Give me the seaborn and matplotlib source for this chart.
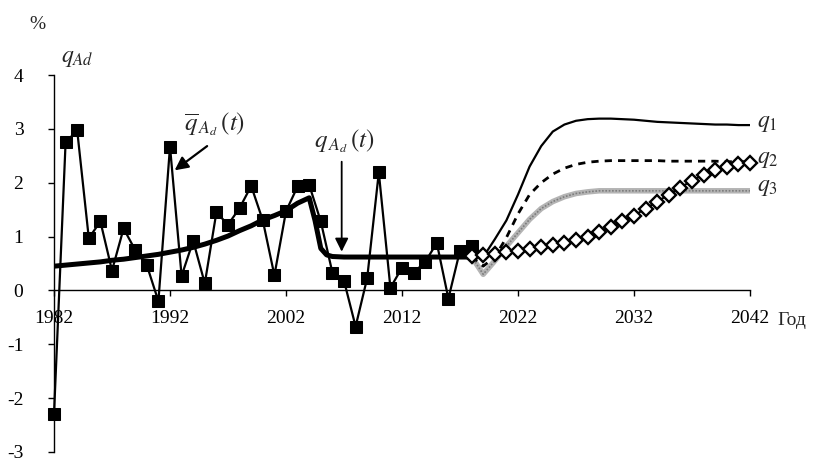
import matplotlib
matplotlib.use("Agg")
import matplotlib.pyplot as plt
import seaborn as sns

# фактические значения q_Ad, %
years_fact = list(range(1982, 2019))
q_fact = [-2.3, 2.75, 2.97, 0.97, 1.28, 0.37, 1.15, 0.75, 0.47, -0.2,
          2.67, 0.27, 0.92, 0.13, 1.45, 1.22, 1.53, 1.94, 1.3, 0.28,
          1.47, 1.93, 1.96, 1.28, 0.33, 0.18, -0.67, 0.23, 2.19, 0.05,
          0.42, 0.33, 0.53, 0.88, -0.15, 0.74, 0.83]

# сглаженный тренд
years_trend = list(range(1982, 2005)) + [2004.5, 2005, 2005.5] + list(range(2006, 2019))
q_trend = [0.45, 0.47, 0.49, 0.51, 0.53, 0.56, 0.58, 0.61, 0.64, 0.67,
           0.71, 0.75, 0.8, 0.86, 0.93, 1.01, 1.11, 1.2, 1.31, 1.39,
           1.48, 1.62, 1.72, 1.3, 0.78, 0.66,
           0.63, 0.62, 0.62, 0.62, 0.62, 0.62, 0.62, 0.62, 0.62, 0.62,
           0.62, 0.62, 0.62]

# прогнозы
years_fc = list(range(2018, 2043))
q1 = [0.63, 0.62, 0.95, 1.3, 1.78, 2.3, 2.68, 2.95, 3.08, 3.15,
      3.18, 3.19, 3.19, 3.18, 3.17, 3.15, 3.13, 3.12, 3.11, 3.1,
      3.09, 3.08, 3.08, 3.07, 3.07]
q2 = [0.63, 0.45, 0.62, 0.98, 1.42, 1.78, 2.0, 2.16, 2.27, 2.34,
      2.38, 2.4, 2.41, 2.41, 2.41, 2.41, 2.41, 2.4, 2.4, 2.4,
      2.4, 2.4, 2.39, 2.39, 2.39]
q3 = [0.63, 0.3, 0.55, 0.82, 1.07, 1.32, 1.52, 1.65, 1.74, 1.8,
      1.83, 1.85, 1.85, 1.85, 1.85, 1.85, 1.85, 1.85, 1.85, 1.85,
      1.85, 1.85, 1.85, 1.85, 1.85]
q4 = [0.64, 0.65, 0.68, 0.71, 0.74, 0.77, 0.8, 0.84, 0.88, 0.93,
      1.0, 1.08, 1.17, 1.28, 1.39, 1.52, 1.65, 1.78, 1.91, 2.04,
      2.15, 2.24, 2.3, 2.34, 2.37]

x_ticks = [1982, 1992, 2002, 2012, 2022, 2032, 2042]
y_ticks = [-3, -2, -1, 0, 1, 2, 3, 4]

sns.set_style("ticks")
plt.rcParams['font.family'] = ['Liberation Serif', 'DejaVu Serif']
plt.rcParams['mathtext.fontset'] = 'stix'
plt.rcParams['axes.unicode_minus'] = False

fig = plt.figure(figsize=(8.33, 4.63), dpi=100)
ax = fig.add_axes([54 / 833, 11 / 463, 696 / 833, 377 / 463])

# тренд
sns.lineplot(x=years_trend, y=q_trend, ax=ax, color='black', lw=3.6,
             sort=False, errorbar=None, zorder=3)
# факт
sns.lineplot(x=years_fact, y=q_fact, ax=ax, color='black', lw=1.6,
             marker='s', markersize=8.5, markeredgecolor='black',
             sort=False, errorbar=None, zorder=4, clip_on=False)
# прогнозы
sns.lineplot(x=years_fc, y=q3, ax=ax, color='#b4b4b4', lw=4,
             sort=False, errorbar=None, zorder=3)
ax.plot(years_fc, q3, color='#7c7c7c', lw=1.2, ls=(0, (1, 1)), zorder=3)
sns.lineplot(x=years_fc, y=q2, ax=ax, color='black', lw=2,
             linestyle=(0, (2.6, 2.2)), sort=False, errorbar=None, zorder=3)
sns.lineplot(x=years_fc, y=q1, ax=ax, color='black', lw=1.6,
             sort=False, errorbar=None, zorder=3)
sns.lineplot(x=years_fc, y=q4, ax=ax, color='black', lw=1.5,
             marker='D', markersize=7, markerfacecolor='white',
             markeredgecolor='black', markeredgewidth=1.7,
             sort=False, errorbar=None, zorder=5, clip_on=False)

ax.set_xlim(1982, 2042)
ax.set_ylim(-3, 4)
ax.set_xticks(x_ticks)
ax.set_yticks(y_ticks)
ax.spines['top'].set_visible(False)
ax.spines['right'].set_visible(False)
ax.spines['bottom'].set_position(('data', 0))
for s in ['left', 'bottom']:
    ax.spines[s].set_linewidth(1.0)
    ax.spines[s].set_color('black')
ax.tick_params(axis='x', direction='out', length=4, width=1, pad=10,
               labelsize=14, colors='black')
ax.tick_params(axis='y', direction='out', length=4, width=1, pad=18,
               labelsize=14, colors='black')
ax.set_xlabel('')
ax.set_ylabel('')

# подписи
ax.text(1980.6, 4.94, '%', fontsize=14, ha='center', va='center', clip_on=False)
ax.text(1984.0, 4.31, r'$q_{Ad}$', fontsize=17, ha='center', va='center', clip_on=False)
ax.text(2045.6, -0.55, 'Год', fontsize=14, ha='center', va='center', clip_on=False)
ax.text(2042.6, 3.1, r'$q_{1}$', fontsize=17, ha='left', va='center', clip_on=False)
ax.text(2042.6, 2.43, r'$q_{2}$', fontsize=17, ha='left', va='center', clip_on=False)
ax.text(2042.6, 1.91, r'$q_{3}$', fontsize=17, ha='left', va='center', clip_on=False)

ax.text(1995.8, 3.09, r'$\overline{q}_{\,A_d}\,(t)$', fontsize=18, ha='center', va='center')
ax.text(2007.0, 2.78, r'$q_{\,A_d}\,(t)$', fontsize=18, ha='center', va='center')
ax.annotate('', xy=(1992.4, 2.23), xytext=(1995.2, 2.68),
            arrowprops=dict(arrowstyle='-|>', color='black', lw=1.6,
                            mutation_scale=20, shrinkA=0, shrinkB=0))
ax.annotate('', xy=(2006.8, 0.72), xytext=(2006.8, 2.39),
            arrowprops=dict(arrowstyle='-|>', color='black', lw=1.3,
                            mutation_scale=20, shrinkA=0, shrinkB=0))

plt.savefig('out.png', dpi=100)
